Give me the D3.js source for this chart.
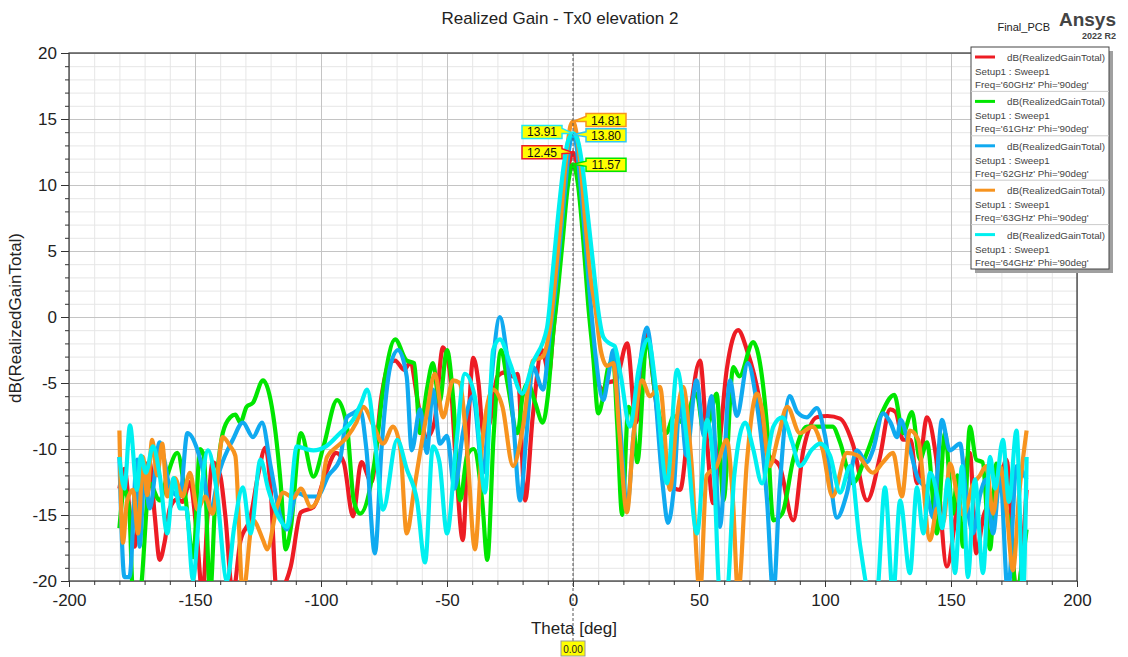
<!DOCTYPE html>
<html>
<head>
<meta charset="utf-8">
<script src="https://cdn.jsdelivr.net/npm/d3@7"></script>
<style>
body { margin: 0; background: #fff; }
svg { font-family: "Liberation Sans", Arial, sans-serif; }
</style>
</head>
<body>
<svg width="1128" height="657"></svg>
<script>
// Realized gain [theta deg, dB] per frequency
var gain60 = [[-180,-13],[-178,-11.5],[-176,-14.5],[-174,-17.4],[-171,-12],[-168,-11],[-166,-15],[-164,-18.4],[-162,-17],[-160,-14.5],[-157,-13.8],[-155,-14],[-152,-12.5],[-149.5,-16],[-147,-21],[-145,-15],[-143,-11],[-140,-12],[-138,-15],[-135,-21],[-132,-17],[-128,-15.2],[-125,-12],[-122,-9.9],[-120,-13],[-117.5,-21],[-115,-20.5],[-112,-18.9],[-108,-14.8],[-103,-14.4],[-98,-11.8],[-94,-10.3],[-91,-11],[-87.3,-15.1],[-84,-11],[-80,-12.5],[-76,-6],[-73,-3.5],[-70.6,-3.3],[-67,-4],[-64.7,-3.5],[-61,-7],[-58,-9.1],[-55,-8],[-51.6,-2.3],[-49,-4],[-46.5,-11],[-43.7,-16.9],[-41.5,-8],[-39.6,-3.1],[-37.5,-5],[-35.6,-8.8],[-33,-8],[-30,-4.5],[-27,-4.2],[-24,-4.5],[-22,-4.3],[-19,-13.9],[-16,-7.6],[-12.3,-2.5],[-9.5,-4.3],[-8,-1.5],[-6,2.5],[-4,7],[-2,11],[0,12.45],[2,11],[4,7],[6,2],[8,-2],[10,-5],[12,-5.5],[13.5,-5],[17,-4.8],[21.5,-2],[25,-8],[29.3,-1.2],[32,-5],[35,-9.5],[38,-12.6],[42.5,-13.1],[46,-8],[50.4,-3.3],[53,-9],[55.6,-14.1],[58,-10],[61,-4],[65.5,-1],[69,-2.5],[74,-6.3],[77,-10.3],[82,-11.3],[87.4,-15.4],[91.4,-10.1],[96.8,-7.6],[101,-7.5],[106,-7.7],[111,-9.6],[116.7,-13.9],[121.8,-10.6],[125.8,-7],[128,-7.2],[131,-9.3],[134,-9.3],[136.5,-12.6],[140.5,-7.6],[144,-10.5],[148.4,-18.9],[152,-15],[155,-12],[157.5,-10.3],[160,-17.9],[163,-15],[166,-14],[169,-13],[172,-10.8],[176,-21],[180,-13.1]];
var gain61 = [[-180,-16],[-178,-13],[-176,-15],[-174.6,-21],[-172,-21],[-168,-12.6],[-164,-13.9],[-161,-12],[-157,-10.3],[-154,-13.3],[-150.7,-18.2],[-148,-10],[-146.5,-10.5],[-144,-21],[-142,-14],[-139,-8.8],[-136,-7.6],[-134,-7.4],[-132,-8],[-129.5,-6.8],[-127,-6.5],[-123,-4.8],[-120,-6.3],[-116,-12.6],[-114,-17.6],[-112,-16],[-108,-8.8],[-103,-12.1],[-99,-9.8],[-93.6,-6.3],[-89.7,-8.3],[-87,-13.9],[-84.5,-14.9],[-79,-11.3],[-75,-5],[-70.6,-1.7],[-66,-3.3],[-63,-3.5],[-60.7,-8.8],[-58,-5.5],[-55.6,-3.5],[-53,-6.5],[-50,-2.5],[-47.5,-6.3],[-44.8,-13.9],[-42,-10.5],[-39.5,-10],[-36,-14],[-34,-18.4],[-31.5,-9],[-28.5,-2.5],[-26,-5],[-22,-8.8],[-20,-6],[-18,-5],[-15,-6.5],[-12,-8],[-10,-6],[-8,-1.5],[-6,2],[-4,6],[-2,10],[0,11.57],[2,10],[4,6],[6,1],[8,-3],[10,-7.3],[12,-6],[14,-3.8],[16,-3.3],[17.5,-8],[19.5,-15],[22,-6.8],[24,-8],[25.5,-11],[29.3,-1.7],[33,-6.3],[37,-8.8],[40,-7.5],[43.7,-8],[49,-5.8],[52,-8.8],[54,-8],[57,-5.8],[59.7,-13.9],[63.6,-3.8],[66,-4.5],[71.5,-1.9],[73.5,-2.8],[77,-8.3],[79.5,-15.4],[83,-14.9],[87.4,-10.8],[92.8,-8.3],[98,-8.3],[103,-8.3],[106,-9.5],[111,-12.6],[116.6,-10.3],[121.8,-7.6],[127.5,-5.9],[131,-8.8],[134.5,-7.2],[137.7,-10.8],[140.5,-9.5],[144.4,-16.4],[147.6,-8.8],[150.8,-14.9],[152.5,-12],[154.8,-17.4],[157.5,-8.3],[160,-10.8],[162.5,-11],[165.5,-17.6],[168,-11.1],[171,-14],[173.5,-16],[176,-21],[178,-19],[180,-16.1]];
var gain62 = [[-180,-10.6],[-178,-19.7],[-176,-19.7],[-173,-10.8],[-172,-17.4],[-170,-12],[-168,-14.5],[-164,-9.5],[-162,-11],[-160,-12.9],[-156,-13.6],[-153,-8.8],[-149,-10.1],[-147,-11.5],[-144,-14.6],[-140,-11.5],[-135,-9.3],[-131,-8],[-127,-9.1],[-123.4,-8],[-120,-11.3],[-116,-15.2],[-113.6,-16.1],[-109.6,-13.3],[-105.6,-13.6],[-101.6,-13.6],[-97,-12],[-92.5,-10.8],[-89.7,-7.6],[-87.3,-7.3],[-84.5,-7],[-82,-10],[-78.6,-17.9],[-76,-10],[-72.6,-3.8],[-69.4,-2.5],[-66,-4.5],[-64,-10.1],[-60.7,-7],[-58,-10.3],[-55.6,-5.5],[-52.8,-9.6],[-50,-9],[-47,-13],[-43.7,-8.8],[-39.7,-6],[-35.7,-11.8],[-33,-6],[-29,0],[-26.5,-2.5],[-23.8,-7.6],[-21,-13.9],[-18.5,-9],[-15.9,-3.8],[-11.9,-5.5],[-9,-1],[-7,2],[-5,6],[-3,10],[-1.5,12.8],[0,13.8],[1.5,12.8],[3,10],[5,5.5],[7,1],[9,-3],[12,-6.3],[14,-4.5],[16,-2.5],[19,-9],[21.4,-14.4],[24,-9],[27,-3],[29.3,-0.8],[32,-4.5],[35.7,-12.9],[37.7,-15.6],[40,-13],[42.5,-6.3],[45,-10.5],[49,-4.8],[52,-9],[55,-6],[58.3,-15.9],[62.3,-4.8],[65,-7.5],[69.4,-3.5],[72.5,-6],[77,-13.9],[79.5,-21],[82,-13],[86,-6],[89,-7.2],[92.8,-7.6],[96.8,-6.9],[100,-9],[104.8,-15.2],[108.5,-13.5],[112.7,-10.1],[116.5,-11],[119,-10.1],[123,-7.3],[126,-8],[128.6,-9.1],[130,-7.8],[133,-9.5],[137,-12.3],[140,-13],[143,-15.2],[146.4,-7.8],[149.5,-10.1],[153.6,-9.6],[156,-13.5],[158.7,-16.4],[161.5,-13.5],[164,-12.3],[166.7,-16.4],[169.5,-12],[172.6,-21],[176,-11.3],[180,-12.3]];
var gain63 = [[-180,-8.6],[-178.6,-17.1],[-177,-14],[-174.6,-13.1],[-172.6,-16.4],[-170.6,-10.6],[-169,-13.5],[-167,-9.3],[-165,-12],[-163,-9.6],[-161,-13.6],[-158,-12.2],[-155,-13.6],[-152,-11.8],[-149,-14.6],[-146,-13.6],[-143,-14.9],[-139,-9.1],[-136,-9.8],[-134,-10.5],[-131,-21],[-127,-15.4],[-123,-16.9],[-121.4,-17.6],[-117.5,-14.4],[-115,-13.3],[-111,-13.7],[-108,-13],[-104,-14.4],[-100,-13.1],[-97.6,-10.6],[-93.5,-9.8],[-89.7,-9.1],[-86,-8],[-83.3,-6.8],[-79,-8.3],[-75.4,-9.6],[-71.4,-8.3],[-68.5,-10],[-66,-16.4],[-63,-13],[-60.7,-10.3],[-58,-7.3],[-54.8,-4.3],[-51.6,-7.6],[-47.6,-4.8],[-45,-5],[-42,-10.1],[-38.9,-17.6],[-36,-9.5],[-31.7,-5.5],[-28,-6.8],[-23.8,-11.3],[-20,-8.5],[-15.9,-3.3],[-12,-3],[-9,-0.5],[-7,3],[-5,7],[-3,11.5],[-1,14.5],[0,14.81],[1.5,13.8],[3,11.5],[5,7],[7,3],[9,0.5],[11,-2.5],[13.5,-3.7],[16,-3.5],[18.5,-9],[21.4,-14.8],[24,-9],[27.4,-4.8],[30.5,-6],[34.5,-5.3],[38.5,-13.1],[41,-8],[43.7,-5.3],[47,-11],[50.4,-21],[53,-12],[57,-11.3],[61,-9.3],[63.5,-14],[65.5,-21],[69,-11],[73,-5.8],[75,-7],[78,-11.3],[81.5,-9],[85,-6.8],[90,-8.8],[95,-8.3],[99,-10],[103,-13.6],[108.7,-10.3],[113,-10.5],[119,-11.8],[123,-11],[127,-10.3],[130.5,-13.6],[133.7,-8.6],[137,-9.3],[141.7,-16.9],[144.5,-14.5],[147,-15.5],[149.6,-11.1],[152.5,-13.5],[155,-15],[158.5,-12.8],[161.5,-12],[164,-11.3],[166.7,-14.9],[169.5,-11.3],[172,-14.5],[174.6,-19.2],[177,-13.5],[180,-8.6]];
var gain64 = [[-180,-10.6],[-178,-13],[-175.8,-8.2],[-173,-13.1],[-171.5,-10.5],[-169.5,-11.8],[-166.7,-9.8],[-164,-12],[-161,-16.4],[-158.5,-12.2],[-156,-14.5],[-153.5,-14.5],[-150.8,-19.9],[-148,-14],[-144.8,-10.1],[-141.5,-13],[-137.3,-20],[-134.5,-16],[-131,-12.9],[-128,-16.4],[-124,-10.8],[-121,-13],[-117.5,-14.9],[-113.5,-15.9],[-109.6,-9.8],[-106,-10],[-103,-10.1],[-98,-9.8],[-92.5,-8.8],[-87.3,-7.8],[-84,-6.5],[-81.7,-5.5],[-78.5,-9.5],[-75.4,-14.6],[-69.8,-9.3],[-66,-11.5],[-61.9,-13.9],[-58.7,-18.6],[-55.6,-9.8],[-53,-11],[-50,-16.4],[-46.5,-10],[-42.9,-4.3],[-39,-6],[-34.9,-13.3],[-31.7,-2.5],[-29,-1.7],[-25,-3.5],[-20.2,-5.8],[-16,-3.5],[-10.3,-0.8],[-8,3.5],[-6,7.5],[-4,11],[-2,13.3],[0,13.91],[2,13.3],[4,11],[6,7.5],[8,4],[10,0.5],[12,-1.5],[14.5,-2],[16.5,-2.2],[19,-4.5],[22.6,-8.3],[26,-4],[29.8,-1.7],[33,-5.5],[37.3,-12.6],[41.3,-4],[45,-9],[49.2,-16.4],[53.2,-7.8],[56,-12],[58.3,-21],[61,-21],[64,-12],[68.3,-8],[71.5,-10],[75,-12.6],[79.5,-8.3],[83,-7.6],[87,-9.5],[90,-11.3],[95,-10],[98,-9.6],[102,-10.5],[106,-13.3],[110,-11.3],[114,-17.4],[117.8,-21],[120.5,-21],[123.8,-12.9],[127,-21],[129.8,-13.9],[133.7,-19.4],[136.5,-12.9],[139,-16.4],[141.7,-11.8],[144.5,-13.5],[146.5,-16],[148.8,-12.3],[151.6,-19.4],[154.4,-11.3],[156.7,-19.7],[159.5,-12.3],[162.7,-19.4],[165.5,-10.6],[167.5,-13],[170.6,-9.3],[173,-14],[176,-8.6],[178.6,-21],[180,-10.6]];

var freqs = ["60GHz", "61GHz", "62GHz", "63GHz", "64GHz"];
var colors = ["#ed1c24", "#00e600", "#10aaf0", "#f7931e", "#00f0f0"];
var peaks = [12.45, 11.57, 13.80, 14.81, 13.91];
var xTicks = [-200, -150, -100, -50, 0, 50, 100, 150, 200];
var yTicks = [-20, -15, -10, -5, 0, 5, 10, 15, 20];

var series = [gain60, gain61, gain62, gain63, gain64];

var svg = d3.select("svg");
var x = d3.scaleLinear().domain([-200, 200]).range([69, 1077]);
var y = d3.scaleLinear().domain([-20, 20]).range([581, 53]);
var W = x(200) - x(-200), H = y(-20) - y(20);
var fmt = function(d) { return String(d); };

svg.append("rect").attr("width", 1128).attr("height", 657).attr("fill", "#fff");

// grid, minor then major
function grid(g, col) { g.select(".domain").remove(); g.selectAll("line").attr("stroke", col); }
svg.append("g").attr("transform", "translate(0," + y(-20) + ")")
    .call(d3.axisBottom(x).tickValues(d3.range(-200, 201, 10)).tickSize(-H).tickFormat(""))
    .call(grid, "#e6e6e6");
svg.append("g").attr("transform", "translate(" + x(-200) + ",0)")
    .call(d3.axisLeft(y).tickValues(d3.range(-20, 21, 1)).tickSize(-W).tickFormat(""))
    .call(grid, "#e6e6e6");
svg.append("g").attr("transform", "translate(0," + y(-20) + ")")
    .call(d3.axisBottom(x).tickValues(xTicks).tickSize(-H).tickFormat(""))
    .call(grid, "#c4c4c4");
svg.append("g").attr("transform", "translate(" + x(-200) + ",0)")
    .call(d3.axisLeft(y).tickValues(yTicks).tickSize(-W).tickFormat(""))
    .call(grid, "#c4c4c4");

// plot frame
svg.append("rect").attr("x", x(-200)).attr("y", y(20)).attr("width", W).attr("height", H)
    .attr("fill", "none").attr("stroke", "#333").attr("stroke-width", 1.2);

// axes with ticks
function axStyle(g) {
    g.attr("font-family", null).attr("font-size", null);
    g.select(".domain").remove();
    g.selectAll("line").attr("stroke", "#333");
    g.selectAll("text").attr("fill", "#222").style("font-size", "17px");
}
svg.append("g").attr("transform", "translate(0," + y(-20) + ")")
    .call(d3.axisBottom(x).tickValues(d3.range(-200, 201, 10)).tickSize(4).tickFormat(""))
    .call(axStyle);
svg.append("g").attr("transform", "translate(0," + y(-20) + ")")
    .call(d3.axisBottom(x).tickValues(xTicks).tickSize(6).tickPadding(7).tickFormat(fmt))
    .call(axStyle);
svg.append("g").attr("transform", "translate(" + x(-200) + ",0)")
    .call(d3.axisLeft(y).tickValues(d3.range(-20, 21, 1)).tickSize(4).tickFormat(""))
    .call(axStyle);
svg.append("g").attr("transform", "translate(" + x(-200) + ",0)")
    .call(d3.axisLeft(y).tickValues(yTicks).tickSize(8).tickPadding(4).tickFormat(fmt))
    .call(axStyle);

// titles
svg.append("text").attr("x", 560).attr("y", 24).attr("text-anchor", "middle")
    .style("font-size", "17px").attr("fill", "#222").text("Realized Gain - Tx0 elevation 2");
svg.append("text").attr("x", 574).attr("y", 634).attr("text-anchor", "middle")
    .style("font-size", "17px").attr("fill", "#222").text("Theta [deg]");
svg.append("text").attr("transform", "translate(21,318) rotate(-90)").attr("text-anchor", "middle")
    .style("font-size", "17px").attr("fill", "#222").text("dB(RealizedGainTotal)");
svg.append("text").attr("x", 1050).attr("y", 31).attr("text-anchor", "end")
    .style("font-size", "11px").attr("fill", "#222").text("Final_PCB");
svg.append("text").attr("x", 1116).attr("y", 26).attr("text-anchor", "end")
    .style("font-size", "19px").style("font-weight", "bold").attr("fill", "#444").text("Ansys");
svg.append("text").attr("x", 1116).attr("y", 39).attr("text-anchor", "end")
    .style("font-size", "9px").style("font-weight", "bold").attr("fill", "#444").text("2022 R2");

// curves
svg.append("clipPath").attr("id", "plotclip").append("rect")
    .attr("x", x(-200)).attr("y", y(20)).attr("width", W).attr("height", H);
var line = d3.line().x(function(d) { return x(d[0]); }).y(function(d) { return y(d[1]); })
    .curve(d3.curveMonotoneX);
svg.append("g").attr("clip-path", "url(#plotclip)")
    .selectAll("path").data(series).enter().append("path")
    .attr("d", line).attr("fill", "none")
    .attr("stroke", function(d, i) { return colors[i]; })
    .attr("stroke-width", 4.2).attr("stroke-linejoin", "round");

// x = 0 marker line
svg.append("line").attr("x1", x(0)).attr("x2", x(0)).attr("y1", y(20)).attr("y2", 641)
    .attr("stroke", "#555").attr("stroke-dasharray", "3,2");
svg.append("rect").attr("x", x(0) - 12).attr("y", 641).attr("width", 24).attr("height", 15)
    .attr("fill", "#ffff00").attr("stroke", "#999");
svg.append("text").attr("x", x(0)).attr("y", 653).attr("text-anchor", "middle")
    .style("font-size", "10px").attr("fill", "#222").text("0.00");

// peak markers: side (-1 left, 1 right) and box offset from the peak
var side = [-1, 1, 1, 1, -1];
var offs = [-7, -6, -6, -8, -8];
var borders = ["#ed1c24", "#00e600", "#30c8f0", "#f7931e", "#20e8f0"];
peaks.forEach(function(p, i) {
    var tx = x(0), ty = y(p);
    var bw = 40, bh = 13;
    var bx = side[i] > 0 ? tx + 13 : tx - 11 - bw;
    var by = ty + offs[i];
    var pts = side[i] > 0
        ? [[bx, by], [bx + bw, by], [bx + bw, by + bh], [bx, by + bh], [bx, by + 8], [tx, ty], [bx, by + 3]]
        : [[bx, by], [bx + bw, by], [bx + bw, by + 3], [tx, ty], [bx + bw, by + 8], [bx + bw, by + bh], [bx, by + bh]];
    svg.append("polygon").attr("points", pts.map(function(q) { return q.join(","); }).join(" "))
        .attr("fill", "#ffff00").attr("stroke", borders[i]).attr("stroke-width", 1.5);
    svg.append("text").attr("x", bx + bw / 2).attr("y", by + 11).attr("text-anchor", "middle")
        .style("font-size", "12px").attr("fill", "#111").text(p.toFixed(2));
});

// legend
var lx = 971, ly = 47, lw = 138, eh = 44.4;
svg.append("rect").attr("x", lx + 4).attr("y", ly + 4).attr("width", lw).attr("height", eh * 5)
    .attr("fill", "#a0a0a0");
svg.append("rect").attr("x", lx).attr("y", ly).attr("width", lw).attr("height", eh * 5)
    .attr("fill", "#fff").attr("stroke", "#444");
var ent = svg.selectAll(".leg").data(freqs).enter().append("g")
    .attr("transform", function(d, i) { return "translate(" + lx + "," + (ly + i * eh) + ")"; });
ent.append("line").attr("x1", 4).attr("x2", 24).attr("y1", 10).attr("y2", 10)
    .attr("stroke", function(d, i) { return colors[i]; }).attr("stroke-width", 3);
ent.append("text").attr("x", 36).attr("y", 14).style("font-size", "9.8px").attr("fill", "#444")
    .text("dB(RealizedGainTotal)");
ent.append("text").attr("x", 4).attr("y", 28).style("font-size", "9.8px").attr("fill", "#444")
    .text("Setup1 : Sweep1");
ent.append("text").attr("x", 4).attr("y", 41).style("font-size", "9.8px").attr("fill", "#444")
    .text(function(d) { return "Freq='" + d + "' Phi='90deg'"; });
ent.filter(function(d, i) { return i > 0; }).append("line")
    .attr("x1", 0).attr("x2", lw).attr("y1", 0).attr("y2", 0).attr("stroke", "#ccc");
</script>
</body>
</html>
